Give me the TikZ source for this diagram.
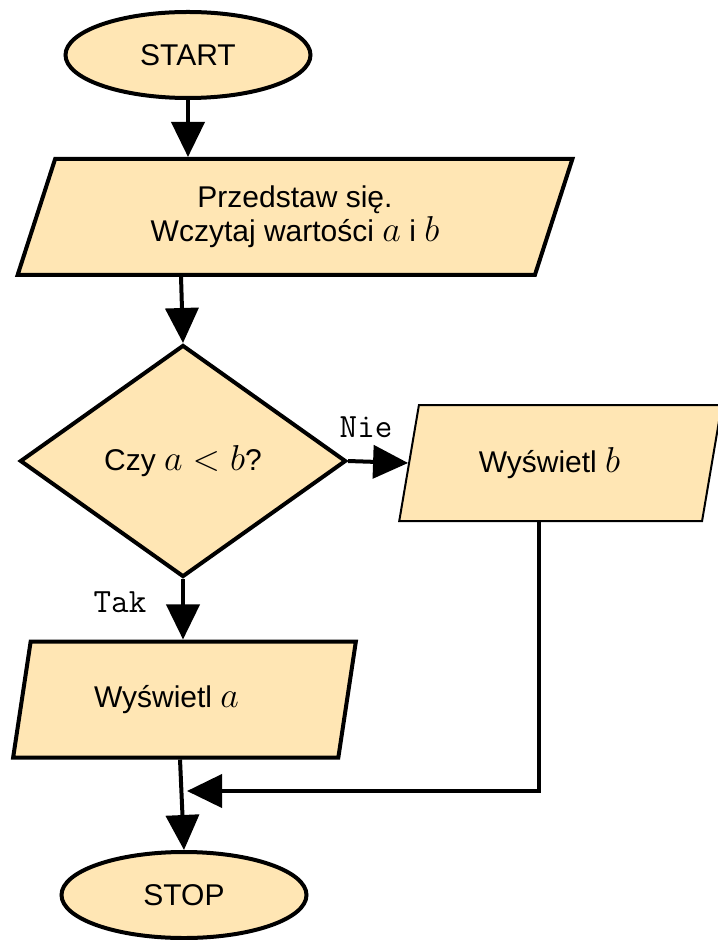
\documentclass[tikz,border=0pt]{standalone}
\usepackage{fix-cm}
\usepackage{fontspec}
\setmainfont{Liberation Sans}
\DeclareMathSizes{15}{18}{12}{9}
\usepackage{xcolor}
\definecolor{boxfill}{RGB}{255,230,180}
\usetikzlibrary{shapes.geometric}
\usetikzlibrary{arrows.meta}
\tikzset{>={Triangle[length=17.5pt,width=16.5pt]}}
\tikzset{
  terminal/.style={
    ellipse, draw, line width=2pt, fill=boxfill,
    minimum width=122.5pt, minimum height=43pt, inner sep=0pt,
    font=\fontsize{15}{17}\selectfont
  },
  io/.style={
    trapezium, trapezium left angle=70, trapezium right angle=110,
    trapezium stretches=true, draw, line width=2pt, fill=boxfill,
    minimum height=58pt, inner sep=0pt, align=center,
    font=\fontsize{15}{17}\selectfont
  },
  decision/.style={
    diamond, draw, line width=2pt, fill=boxfill,
    minimum width=163pt, minimum height=116pt, inner sep=0pt,
    font=\fontsize{15}{17}\selectfont
  },
  flow/.style={->, line width=2pt},
  answer/.style={font=\ttfamily\fontsize{17}{19}\selectfont}
}

\begin{document}
\begin{tikzpicture}[x=0.5pt,y=-0.5pt]
    \useasboundingbox (0,0) rectangle (717,940);
    \node[terminal](start) at (188,55) {START};
    \node[io,minimum width=278pt](read) at (295,217) {Przedstaw się.\\Wczytaj wartości $a$ i $b$};
    \node[decision](cmp) at (183,461) {Czy $a<b$?};
    \node[io,minimum width=162pt,line width=1pt](showb) at (560.5,463) {Wyświetl $b$\hspace*{11pt}};
    \node[io,minimum width=172pt](showa) at (184.5,699.5) {Wyświetl $a$\hspace*{18pt}};
    \node[terminal](stop) at (184,895) {STOP};
    \coordinate (merge) at (187,791);
    \draw[flow] (start.south) -- (start.south |- read.north);
    \draw[flow] ([xshift=-57pt]read.south) -- (cmp.north);
    \draw[flow] (cmp.east) -- (showb.left side);
    \draw[flow] (cmp.south) -- (cmp.south |- showa.north);
    \draw[flow] ([xshift=-2.25pt]showa.south) -- (stop.north);
    \draw[flow] ([xshift=-10.75pt]showb.south) |- (merge);
    \node[answer](nie) at (366,427) {Nie};
    \node[answer](tak) at (120,602) {Tak};
\end{tikzpicture}
\end{document}
